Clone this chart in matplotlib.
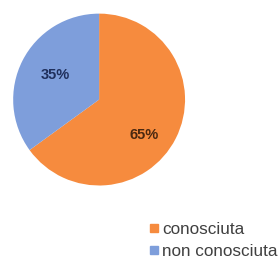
import matplotlib.pyplot as plt
from matplotlib.lines import Line2D

# Data
categories = ["conosciuta", "non conosciuta"]
values = [65, 35]
colors = ["#F68B3E", "#7E9EDB"]
label_colors = ["#4A2810", "#1F2F5C"]

fig = plt.figure(figsize=(2.78, 2.62), dpi=100)
ax = fig.add_axes([0.047, 0.292, 0.619, 0.656])

wedges, texts, autotexts = ax.pie(values, colors=colors, startangle=90,
                                  counterclock=False, autopct="%d%%",
                                  pctdistance=0.62,
                                  textprops={"fontsize": 10.5, "fontweight": "bold",
                                             "family": "Liberation Sans"})
for t, c in zip(autotexts, label_colors):
    t.set_color(c)
# the 65% label sits a bit lower in the original
x0, y0 = autotexts[0].get_position()
autotexts[0].set_position((x0 - 0.03, y0 - 0.13))
x1, y1 = autotexts[1].get_position()
autotexts[1].set_position((x1 + 0.04, y1))
ax.set_xlim(-1, 1)
ax.set_ylim(-1, 1)
ax.set_aspect("equal")

handles = [Line2D([], [], marker="s", linestyle="none", markersize=6,
                  color=c) for c in colors]
fig.legend(handles, categories, loc="upper left",
           bbox_to_anchor=(0.53, 0.153), frameon=False,
           handletextpad=0.05, handlelength=0.8, labelspacing=0.4,
           borderaxespad=0, borderpad=0,
           prop={"family": "Liberation Sans", "size": 12.3},
           labelcolor="#404040")

plt.savefig("out.png", dpi=100)
